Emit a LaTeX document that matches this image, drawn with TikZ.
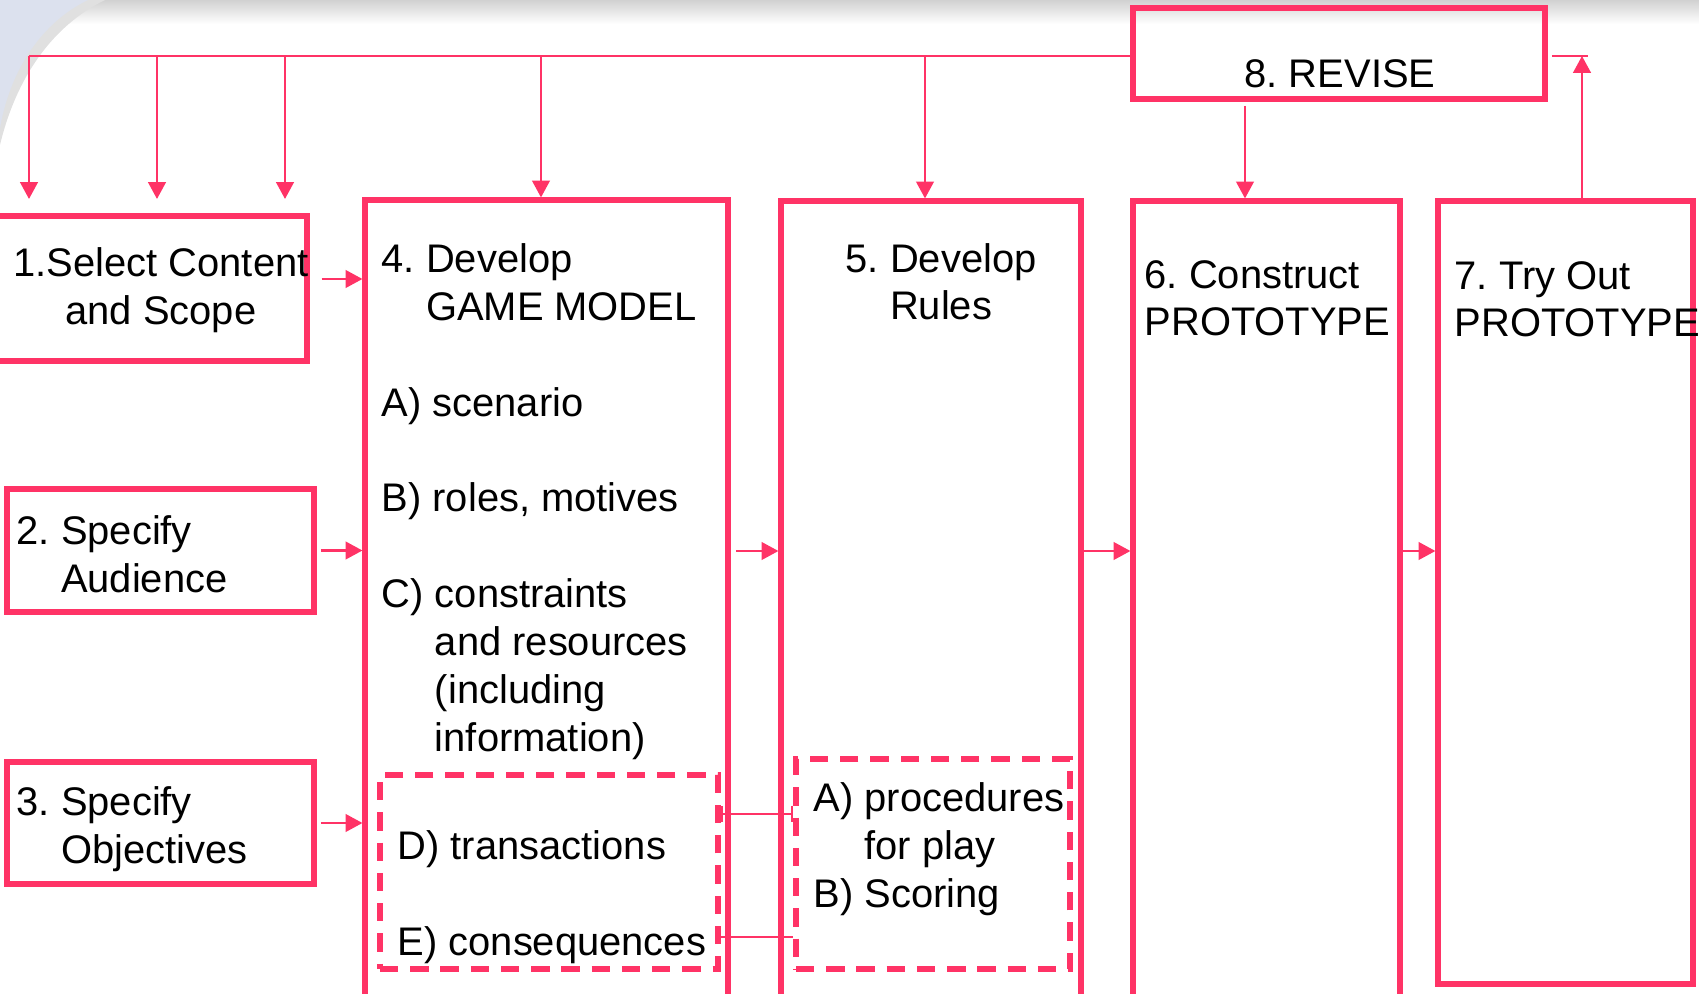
\documentclass[tikz,border=0pt]{standalone}
\usepackage{fontspec}
\setmainfont{Liberation Sans}
\usetikzlibrary{arrows.meta, fit}
\definecolor{RevPink}{HTML}{FF3366}
\definecolor{SlideBlue}{HTML}{DCE1EE}

\begin{document}
\begin{tikzpicture}[
    x={(0.01cm,0cm)},    % one pixel of the slide
    y={(0cm,-0.01cm)},   % y runs downwards
    >={Triangle[length=4.8pt,width=5pt]},
    box/.style={draw=RevPink, line width=1.45pt, inner sep=0pt},
    dbox/.style={box, dash pattern=on 5.2pt off 3.4pt},
    link/.style={RevPink, line width=0.7pt},
    arr/.style={link, ->},
    txt/.style={inner sep=0pt, anchor=base west, align=left,
        font=\fontsize{11.35}{13.6}\selectfont\frenchspacing}
]

    % --- Parameters ---
    \def\busY{56}   % height of the feedback bus
    \def\midY{551}  % height of the main flow arrows

    \useasboundingbox (0,0) rectangle (1699,994);
    \clip (0,0) rectangle (1699,994);

    % --- 1. Slide background ---
    \shade[top color=black!18, bottom color=white] (0,0) rectangle (1699,24);
    \fill[black!12] (0,0) -- (105,0) .. controls (52,26) and (16,78) .. (0,145) -- cycle;
    \fill[SlideBlue] (0,0) -- (88,0) .. controls (42,22) and (10,70) .. (0,128) -- cycle;

    % --- 2. Boxes ---
    \node[box, fit={(-10,216) (307,361)}] (b1) {};
    \node[box, fit={(7,489) (314,612)}] (b2) {};
    \node[box, fit={(7,762) (314,884)}] (b3) {};
    \node[box, fit={(365,200) (728,1010)}] (b4) {};
    \node[box, fit={(781,201) (1081,1010)}] (b5) {};
    \node[box, fit={(1133,201) (1400,1010)}] (b6) {};
    \node[box, fit={(1438,201) (1693,984)}] (b7) {};
    \node[box, fit={(1133,8) (1545,99)}] (b8) {};
    \node[dbox, fit={(380,775) (718,969)}] (d4) {};
    \node[dbox, fit={(796,759) (1070,969)}] (d5) {};

    % --- 3. Texts (placed at the baseline of their last line) ---
    \node[txt, anchor=base, align=center] (t1) at (161,324) {1.Select Content\\and Scope};
    \node[txt] (t2) at (16,592) {2. Specify\\\phantom{2. }Audience};
    \node[txt] (t3) at (16,863) {3. Specify\\\phantom{3. }Objectives};
    \node[txt] (t4) at (381,751) {4. Develop\\\phantom{4. }GAME MODEL\\\mbox{}\\A) scenario\\\mbox{}\\B) roles, motives\\\mbox{}\\C) constraints\\\phantom{C) }and resources\\\phantom{C) }(including\\\phantom{C) }information)};
    \node[txt] (t5) at (845,320) {5. Develop\\\phantom{5. }Rules};
    \node[txt] (t6) at (1144,336) {6. Construct\\PROTOTYPE};
    \node[txt] (t7) at (1454,337) {7. Try Out\\PROTOTYPE};
    \node[txt, anchor=base] (t8) at (1340,88) {8. REVISE};
    \node[txt] (td4) at (397,955) {D) transactions\\\mbox{}\\E) consequences};
    \node[txt] (td5) at (813,907) {A) procedures\\\phantom{A) }for play\\B) Scoring};

    % --- 4. Feedback bus from REVISE ---
    \coordinate (busL) at (29,\busY);
    \coordinate (busR) at (1588,\busY);
    \draw[link] (busL) -- (b8.west |- busL);
    \draw[link, shorten <=1.2pt] (b8.east |- busR) -- (busR);
    \foreach \x [count=\i] in {29,157,285} {
        \coordinate (in\i) at (\x,199);
        \draw[arr] (in\i |- busL) -- (in\i);
    }
    \coordinate (x4) at (541,0);
    \coordinate (x5) at (925,0);
    \coordinate (x6) at (1245,0);
    \coordinate (x7) at (1582,0);
    \draw[arr] (x4 |- busL) -- (x4 |- b4.north);
    \draw[arr] (x5 |- busL) -- (x5 |- b5.north);
    \draw[arr, shorten <=1.2pt] (x6 |- b8.south) -- (x6 |- b6.north);
    \draw[arr] (x7 |- b7.north) -- (x7 |- busR);

    % --- 5. Main flow ---
    \coordinate (lvl) at (0,\midY);
    \draw[arr, shorten <=3.4pt] ([yshift=0.095cm]b1.east) -- ([yshift=0.095cm]b1.east -| b4.west);
    \draw[arr, shorten <=1.2pt] (b2.east) -- (b2.east -| b4.west);
    \draw[arr, shorten <=1.2pt] (b3.east) -- (b3.east -| b4.west);
    \draw[arr, shorten <=1.5pt] (b4.east |- lvl) -- (b5.west |- lvl);
    \draw[arr] (b5.east |- lvl) -- (b6.west |- lvl);
    \draw[arr] (b6.east |- lvl) -- (b7.west |- lvl);

    % --- 6. Ties between the dashed groups ---
    \coordinate (tie1) at (0,814);
    \coordinate (tie2) at (0,937);
    \draw[link, {Bar[width=4.8pt]}-{Bar[width=4.8pt]}] (d4.east |- tie1) -- (d5.west |- tie1);
    \draw[link] (d4.east |- tie2) -- (d5.west |- tie2);

\end{tikzpicture}
\end{document}
